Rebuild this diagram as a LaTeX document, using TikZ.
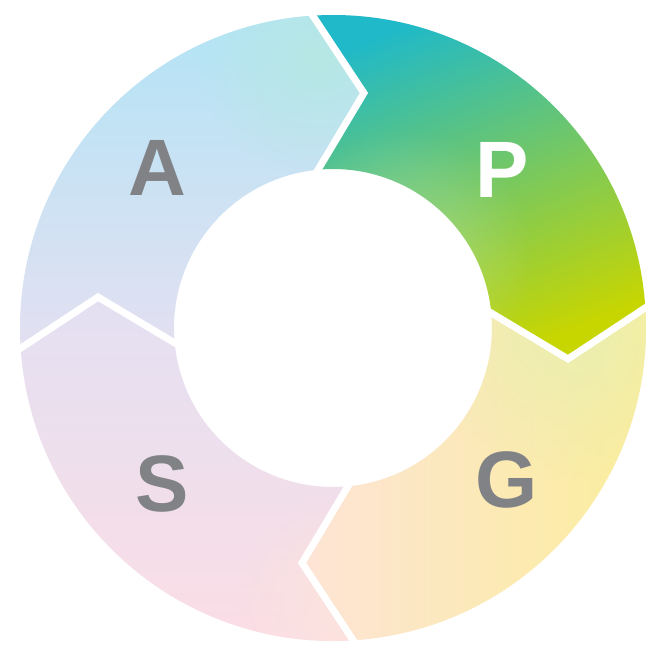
\documentclass[tikz,border=0pt]{standalone}
\usepackage{fontspec}
\setmainfont{Liberation Sans}
\usetikzlibrary{fadings}
\definecolor{pTeal}{HTML}{1FB9C9}
\definecolor{pGreen}{HTML}{48B764}
\definecolor{pLime}{HTML}{C8D600}
\definecolor{gPale}{HTML}{E9EFB0}
\definecolor{gYellow}{HTML}{FBEE9A}
\definecolor{gPeach}{HTML}{FDE4D6}
\definecolor{sLav}{HTML}{E3E0F2}
\definecolor{sMid}{HTML}{F3DBEA}
\definecolor{sPink}{HTML}{FCDDE5}
\definecolor{sPeach}{HTML}{FDE6DA}
\definecolor{aTeal}{HTML}{B6E8E2}
\definecolor{aBlue}{HTML}{B2E4F6}
\definecolor{aMid}{HTML}{B8E2F6}
\definecolor{aLav}{HTML}{E3E0F1}
\definecolor{letterGray}{HTML}{808285}
\tikzfading[name=softglow, inner color=transparent!0, outer color=transparent!100]
\tikzset{
  ringseg/.style={insert path={(#1+3.7:313pt) arc[start angle=#1+3.7, end angle=#1-86.3, radius=313pt]
     -- (#1-97.5:237pt) -- (#1-84.6:159pt) arc[start angle=#1-84.6, end angle=#1+5.4, radius=159pt]
     -- (#1-7.5:237pt) -- cycle}},
  spot/.style={fill=#1, path fading=softglow},
  gapline/.style={draw=white, line width=7pt, line join=miter, shorten <=-8pt, shorten >=-8pt},
  letter/.style={inner sep=0pt, font=\fontsize{80}{90}\selectfont\bfseries, text=letterGray}
}
\begin{document}
\begin{tikzpicture}[x=1pt,y=1pt]
\useasboundingbox (0,-656) rectangle (656,0);
\fill[white] (0,-656) rectangle (656,0);
\begin{scope}[shift={(333,-328)}]
  % P
  \shade[top color=pTeal, middle color=pGreen, bottom color=pLime, shading angle=22, ringseg=90];
  \begin{scope}
    \clip[ringseg=90];
    \fill[spot=white, fill opacity=0.28] (70,70) circle (130pt);
  \end{scope}
  % G
  \shade[left color=gPeach, right color=gYellow, ringseg=0];
  \begin{scope}
    \clip[ringseg=0];
    \fill[spot=gPale, fill opacity=0.95] (235,0) circle (150pt);
  \end{scope}
  % S
  \shade[top color=sLav, middle color=sMid, bottom color=sPink, ringseg=-90];
  \begin{scope}
    \clip[ringseg=-90];
    \fill[spot=sPeach, fill opacity=0.8] (15,-275) circle (110pt);
  \end{scope}
  % A
  \shade[top color=aBlue, middle color=aMid, bottom color=aLav, ringseg=180];
  \begin{scope}
    \clip[ringseg=180];
    \fill[spot=aTeal, fill opacity=0.9] (-15,270) circle (120pt);
  \end{scope}
  % separators
  \foreach \b in {90,0,-90,180} {
    \coordinate (o\b) at (\b+3.7:313pt);
    \coordinate (t\b) at (\b-7.5:237pt);
    \coordinate (i\b) at (\b+5.4:159pt);
    \draw[gapline] (o\b) -- (t\b) -- (i\b);
  }
\end{scope}
\node[letter] (lA) at (157,-168) {A};
\node[letter, text=white] (lP) at (502,-170) {P};
\node[letter] (lG) at (507,-480) {G};
\node[letter] (lS) at (162,-484) {S};
\end{tikzpicture}
\end{document}
